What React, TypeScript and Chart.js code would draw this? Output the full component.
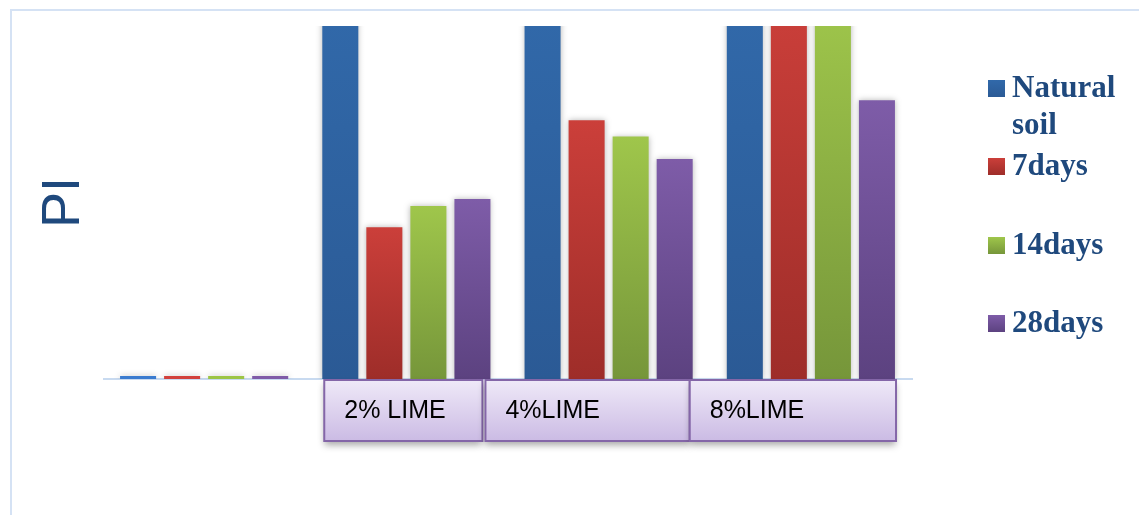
import React, { useEffect, useRef } from "react";
import { Chart, registerables } from "chart.js";

Chart.register(...registerables);

const categories = ["", "2% LIME", "4%LIME", "8%LIME"];
const seriesNames = ["Natural soil", "7days", "14days", "28days"];
const naturalSoil = [0, 32, 32, 32];
const days7 = [0, 12.9, 22.0, 32];
const days14 = [0, 14.7, 20.6, 32];
const days28 = [0, 15.3, 18.7, 23.7];
const yAxisTitle = "PI";
const yMax = 30;

const colorPairs: [string, string][] = [
  ["#3169aa", "#2b5a95"],
  ["#cb3f3a", "#9e2d29"],
  ["#9fc64b", "#76963a"],
  ["#7e5ca8", "#5c4280"],
];
const stubColors = ["#3a7bcf", "#d2403c", "#9cc545", "#7f5ba8"];

const W = 1139;
const H = 515;

const decorPlugin = {
  id: "decor",
  beforeDraw(chart: any) {
    const ctx = chart.ctx;
    ctx.save();
    ctx.fillStyle = "#ffffff";
    ctx.fillRect(0, 0, W, H);
    ctx.strokeStyle = "#d5e2f4";
    ctx.lineWidth = 2;
    ctx.strokeRect(11, 10, W + 20, H + 20);
    ctx.restore();
  },
  beforeDatasetsDraw(chart: any) {
    const ctx = chart.ctx;
    const a = chart.chartArea;
    ctx.save();
    ctx.strokeStyle = "#c8daf0";
    ctx.lineWidth = 2;
    ctx.beginPath();
    ctx.moveTo(a.left, a.bottom);
    ctx.lineTo(a.right + 1, a.bottom);
    ctx.stroke();
    ctx.restore();
    ctx.save();
    ctx.shadowColor = "rgba(0,0,0,0.28)";
    ctx.shadowBlur = 6;
    ctx.shadowOffsetX = 0;
    ctx.shadowOffsetY = 0;
  },
  afterDatasetsDraw(chart: any) {
    chart.ctx.restore();
  },
  afterDraw(chart: any, _args: any, opts: any) {
    const ctx = chart.ctx;
    const xs = chart.scales.x;
    const a = chart.chartArea;
    const edges: [number, number][] = opts.boxEdges;
    const boxTop = a.bottom + 1;
    const boxH = 61;
    categories.forEach((label, i) => {
      if (!label) return;
      const e = edges[i];
      const step = xs.getPixelForValue(1) - xs.getPixelForValue(0);
      const l = xs.getPixelForValue(0) + e[0] * step;
      const r = xs.getPixelForValue(0) + e[1] * step;
      ctx.save();
      ctx.shadowColor = "rgba(0,0,0,0.35)";
      ctx.shadowBlur = 7;
      ctx.shadowOffsetY = 4;
      const g = ctx.createLinearGradient(0, boxTop, 0, boxTop + boxH);
      g.addColorStop(0, "#efe9f8");
      g.addColorStop(1, "#cbbbe4");
      ctx.fillStyle = g;
      ctx.fillRect(l, boxTop, r - l, boxH);
      ctx.restore();
      ctx.save();
      ctx.strokeStyle = "#8466a8";
      ctx.lineWidth = 2;
      ctx.strokeRect(l, boxTop, r - l, boxH);
      ctx.fillStyle = "#000000";
      ctx.font = "25px 'Liberation Sans', Arial, sans-serif";
      ctx.textBaseline = "middle";
      ctx.textAlign = "left";
      ctx.fillText(label, l + 20, boxTop + 31);
      ctx.restore();
    });
    ctx.save();
    ctx.translate(62, (a.top + a.bottom) / 2);
    ctx.rotate(-Math.PI / 2);
    ctx.fillStyle = "#1f497d";
    ctx.font = "54px 'Liberation Sans', Arial, sans-serif";
    ctx.textAlign = "center";
    ctx.textBaseline = "middle";
    ctx.fillText(yAxisTitle, 0, 2);
    ctx.restore();
    const ys: number[] = opts.legendY;
    ctx.save();
    ctx.font = "bold 31px 'Liberation Serif', 'Times New Roman', serif";
    ctx.textBaseline = "middle";
    ctx.textAlign = "left";
    chart.data.datasets.forEach((ds: any, i: number) => {
      const y = ys[i];
      const g = ctx.createLinearGradient(0, y - 8, 0, y + 9);
      g.addColorStop(0, colorPairs[i][0]);
      g.addColorStop(1, colorPairs[i][1]);
      ctx.fillStyle = g;
      ctx.fillRect(988, y - 8, 17, 17);
      ctx.fillStyle = "#1f497d";
      const words = String(ds.label).split(" ");
      const lines: string[] = [];
      let cur = "";
      words.forEach((w) => {
        const t = cur ? cur + " " + w : w;
        if (cur && ctx.measureText(t).width > 122) {
          lines.push(cur);
          cur = w;
        } else cur = t;
      });
      if (cur) lines.push(cur);
      lines.forEach((ln, k) => ctx.fillText(ln, 1012, y + 1 + k * 37));
    });
    ctx.restore();
  },
};

function barGradient(i: number) {
  return (c: any) => {
    const chart = c.chart;
    const ys = chart.scales?.y;
    if (!ys || c.parsed === undefined) return colorPairs[i][0];
    const top = ys.getPixelForValue(c.parsed.y);
    const base = ys.getPixelForValue(0);
    if (!isFinite(top) || Math.abs(base - top) < 1) return stubColors[i];
    const g = chart.ctx.createLinearGradient(0, top, 0, base);
    g.addColorStop(0, colorPairs[i][0]);
    g.addColorStop(1, colorPairs[i][1]);
    return g;
  };
}

export default function App() {
  const ref = useRef<HTMLCanvasElement>(null);
  useEffect(() => {
    if (!ref.current) return;
    const series = [naturalSoil, days7, days14, days28];
    const chart = new Chart(ref.current, {
      type: "bar",
      data: {
        labels: categories,
        datasets: series.map((d, i) => ({
          label: seriesNames[i],
          data: d,
          backgroundColor: barGradient(i),
          borderWidth: 0,
          minBarLength: 3,
          barPercentage: 0.818,
          categoryPercentage: 0.871,
          clip: 0,
        })),
      },
      options: {
        responsive: false,
        animation: false,
        layout: { padding: { left: 103, right: W - 912, top: 26, bottom: H - 379 } },
        scales: {
          x: { display: false },
          y: { display: false, min: 0, max: yMax },
        },
        plugins: {
          legend: { display: false },
          tooltip: { enabled: false },
          decor: {
            boxEdges: [[0, 0], [0.594, 1.376], [1.391, 2.401], [2.401, 3.421]],
            legendY: [88, 166, 245, 323],
          },
        } as any,
      },
      plugins: [decorPlugin],
    });
    return () => chart.destroy();
  }, []);
  return (
    <div style={{ position: "fixed", left: 0, top: 0, width: W, height: H }}>
      <canvas ref={ref} width={W} height={H} style={{ width: W, height: H, display: "block" }} />
    </div>
  );
}
